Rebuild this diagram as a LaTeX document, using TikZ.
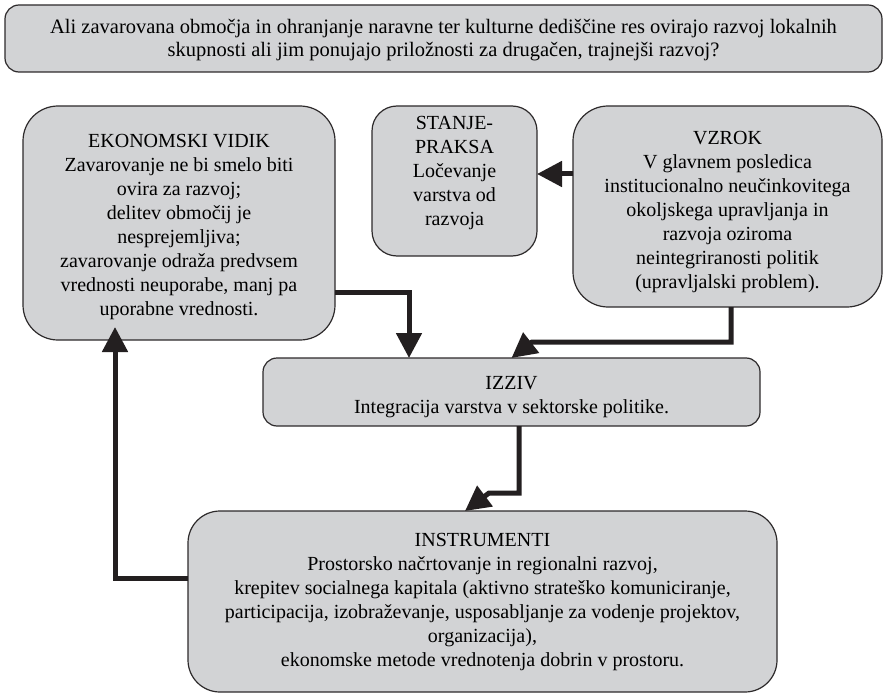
\documentclass[tikz,border=0pt]{standalone}
\usepackage{fontspec}
\setmainfont{Liberation Serif}
\usetikzlibrary{arrows.meta,calc}
\definecolor{boxfill}{RGB}{210,211,213}
\definecolor{boxline}{RGB}{45,42,43}
\definecolor{conncol}{RGB}{35,31,32}
\newcommand\tstr[1]{\rule{0pt}{#1}}
\newcommand\bstr[1]{\rule[-#1]{0pt}{#1}}
\begin{document}
\begin{tikzpicture}[x=1pt,y=-1pt,
  box/.style={draw=boxline, line width=1.2pt, fill=boxfill, align=center, inner sep=0pt, outer sep=0pt,
    font=\fontsize{20}{24}\selectfont},
  conn/.style={draw=conncol, line width=5pt, line join=miter,
    -{Triangle[length=25pt,width=25pt]}, color=conncol}
]
\useasboundingbox (0,0) rectangle (885,695);

\node[box, rounded corners=14pt, minimum width=877pt, minimum height=67pt,
  font=\fontsize{20.5}{23}\selectfont] (top) at (443.5,38.5)
  {\tstr{18pt}Ali zavarovana območja in ohranjanje naravne ter kulturne dediščine res ovirajo razvoj lokalnih\\
   skupnosti ali jim ponujajo priložnosti za drugačen, trajnejši razvoj?};

\node[box, rounded corners=35pt, minimum width=312pt, minimum height=234pt] (ekon) at (179,223)
  {\tstr{21pt}EKONOMSKI VIDIK\\Zavarovanje ne bi smelo biti\\ovira za razvoj;\\delitev območij je\\nesprejemljiva;\\zavarovanje odraža predvsem\\vrednosti neuporabe, manj pa\\uporabne vrednosti.};

\node[box, rounded corners=25pt, minimum width=165pt, minimum height=150pt] (stanje) at (454.5,181)
  {STANJE-\\PRAKSA\\Ločevanje\\varstva od\\razvoja\bstr{20pt}};

\node[box, rounded corners=35pt, minimum width=309pt, minimum height=201pt] (vzrok) at (727.5,206.5)
  {\tstr{25pt}VZROK\\V glavnem posledica\\institucionalno neučinkovitega\\okoljskega upravljanja in\\razvoja oziroma\\neintegriranosti politik\\(upravljalski problem).};

\node[box, rounded corners=14pt, minimum width=497pt, minimum height=68pt] (izziv) at (511.5,392)
  {\tstr{23pt}IZZIV\\Integracija varstva v sektorske politike.};

\node[box, rounded corners=32pt, minimum width=589pt, minimum height=181pt] (instr) at (482.5,601.5)
  {INSTRUMENTI\\Prostorsko načrtovanje in regionalni razvoj,\\krepitev socialnega kapitala (aktivno strateško komuniciranje,\\participacija, izobraževanje, usposabljanje za vodenje projektov,\\organizacija),\\ekonomske metode vrednotenja dobrin v prostoru.};

% connectors
\coordinate (a1) at ($(vzrok.west)+(0,-32.5)$);
\draw[conn] (a1) -- (a1 -| stanje.east);

\draw[conn] ($(ekon.east)+(0,69)$) -| ($(izziv.north)+(-102.5,0)$);

\coordinate (k1) at (532,342);
\draw[conn] ($(vzrok.south)+(3.5,0)$) |- (k1) -- (izziv.north);

\coordinate (k2) at (489,493);
\draw[conn] ($(izziv.south)+(7.5,0)$) |- (k2) -- ($(instr.north)+(-17.5,0)$);

\draw[conn] ($(instr.west)+(0,-23.5)$) -| ($(ekon.south)+(-64,-13)$);
\end{tikzpicture}
\end{document}
